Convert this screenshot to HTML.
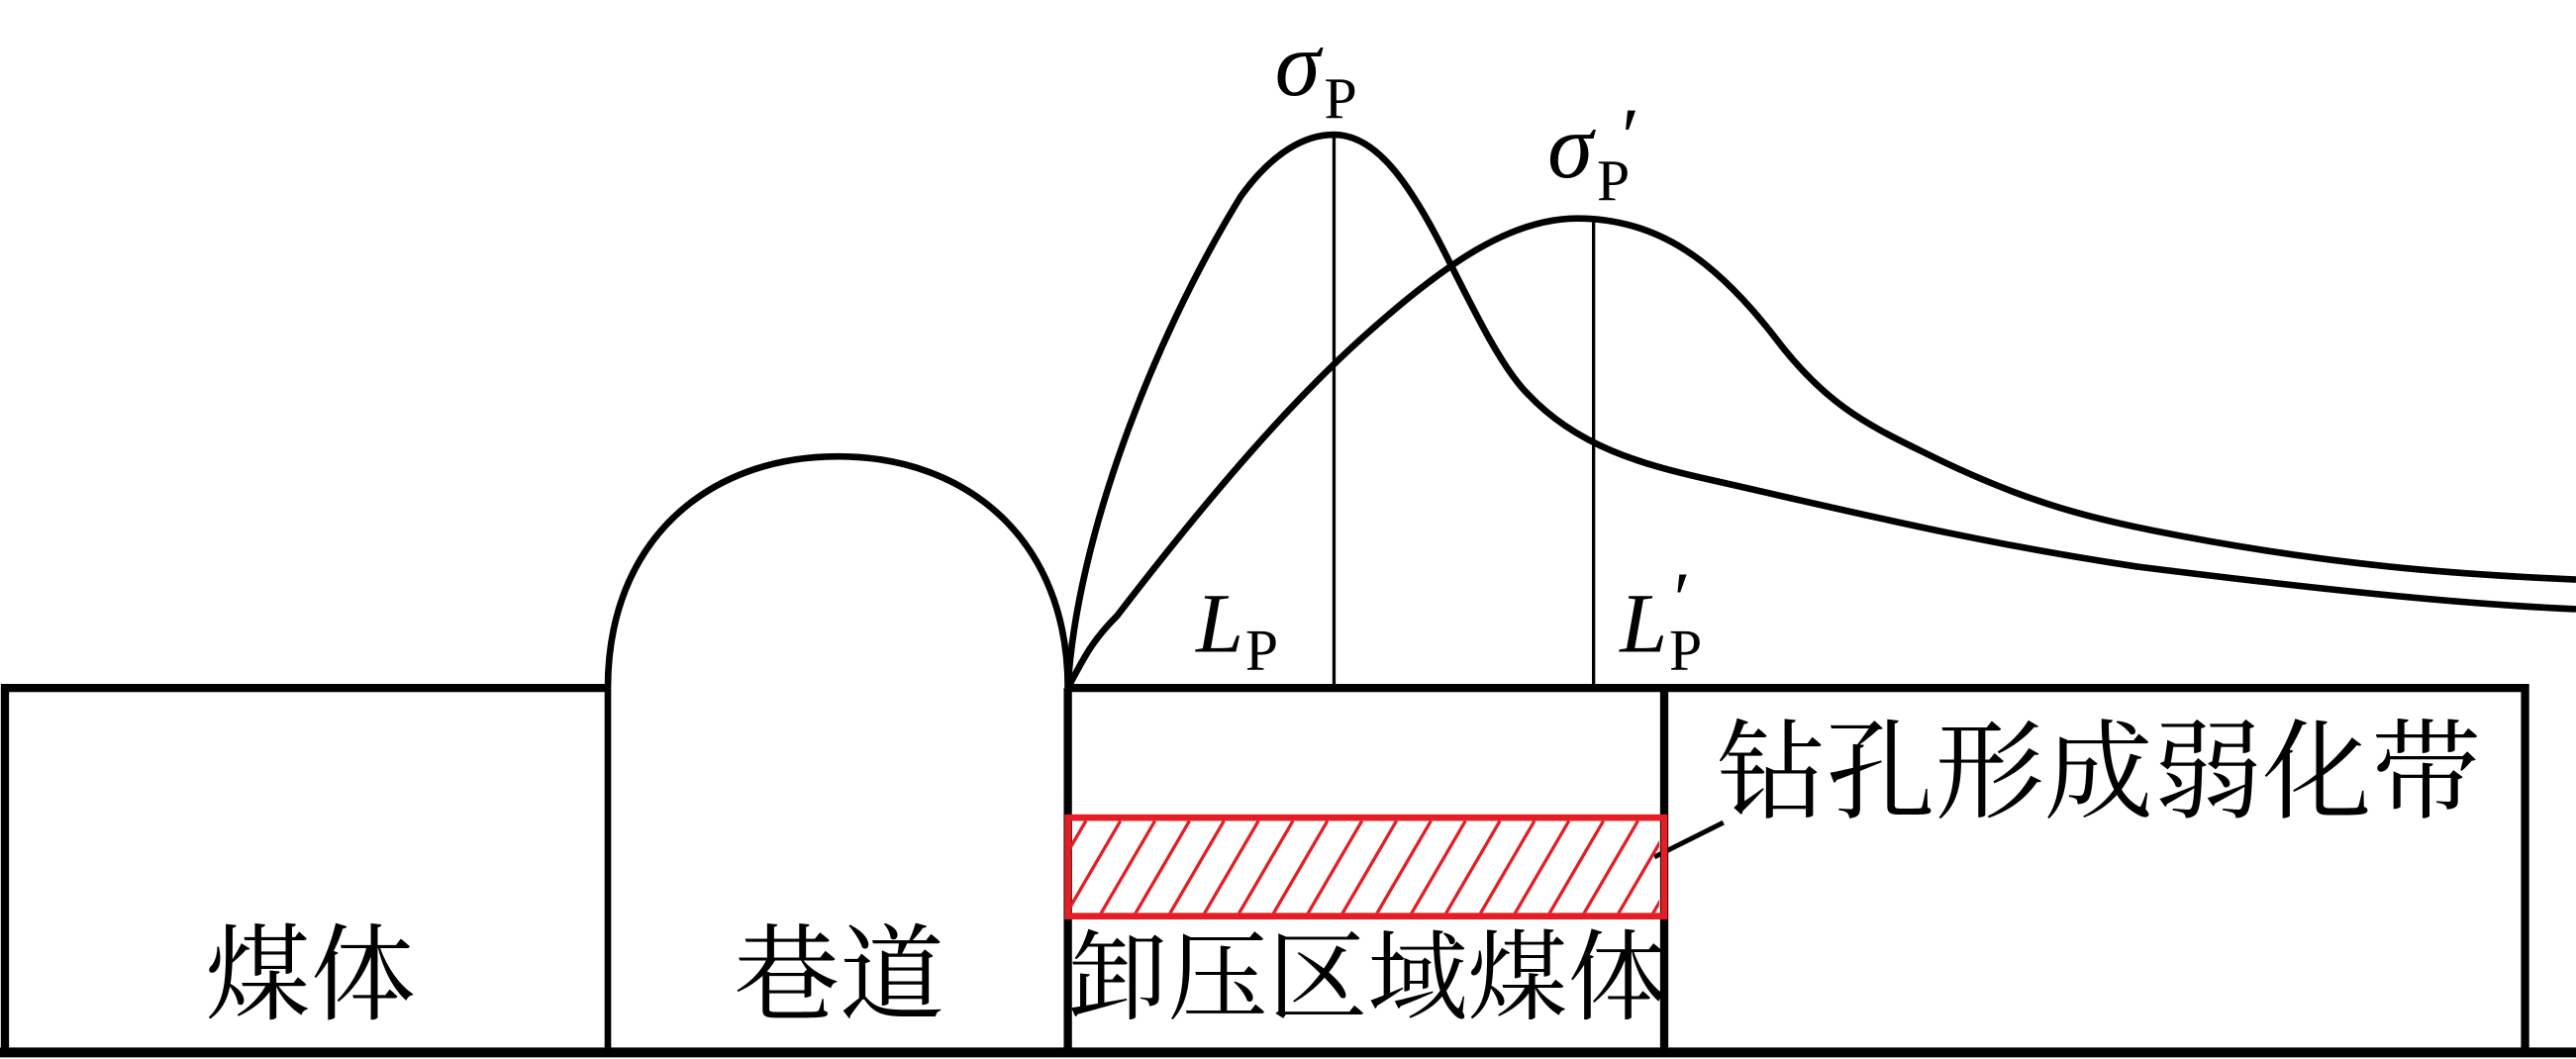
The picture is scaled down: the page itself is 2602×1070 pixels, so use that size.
<!DOCTYPE html>
<html><head><meta charset="utf-8"><style>
html,body{margin:0;padding:0;background:#fff;}
svg{display:block;}
</style></head><body>
<svg width="2602" height="1070" viewBox="0 0 1568 645" preserveAspectRatio="none" xmlns="http://www.w3.org/2000/svg">
<defs>
<clipPath id="hc"><rect x="652" y="500" width="358" height="56"/></clipPath>
</defs>
<g fill="none" stroke="#000" stroke-linecap="butt">
<path d="M3 641 V419 H370 M650 419 H1537 V641" stroke-width="5"/>
<line x1="0" y1="641" x2="1568" y2="641" stroke-width="6"/>
<line x1="370" y1="419" x2="370" y2="641" stroke-width="4"/>
<line x1="650" y1="419" x2="650" y2="641" stroke-width="5"/>
<line x1="1013" y1="419" x2="1013" y2="641" stroke-width="5"/>
<path d="M370 419 C370 330 430 278 510 278 C590 278 650 330 650 419" stroke-width="4"/>
<path d="M650 419 C655 330 700 210 755 120 C775 92 795 82 812 82 C835 82 855 105 880 155 C900 195 915 225 930 240 C960 272 1000 283 1040 292 C1120 310 1200 330 1300 345 C1420 360 1500 368 1568 371" stroke-width="4"/>
<path d="M650 419 C660 400 665 390 680 375 C730 310 780 250 830 205 C880 160 920 133 960 133 C1010 133 1045 160 1080 205 C1110 245 1135 258 1170 275 C1230 305 1270 315 1310 323 C1420 345 1500 350 1568 353" stroke-width="4"/>
<line x1="812" y1="82" x2="812" y2="419" stroke-width="2"/>
<line x1="970" y1="135" x2="970" y2="419" stroke-width="2"/>
<line x1="1007" y1="522" x2="1049" y2="501" stroke-width="3"/>
</g>
<g clip-path="url(#hc)" stroke="#e31e24" stroke-width="2">
<path d="M626 560 L661 500 M647 560 L682 500 M668 560 L703 500 M689 560 L724 500 M710 560 L745 500 M731 560 L766 500 M752 560 L787 500 M773 560 L808 500 M794 560 L829 500 M815 560 L850 500 M836 560 L871 500 M857 560 L892 500 M878 560 L913 500 M899 560 L934 500 M920 560 L955 500 M941 560 L976 500 M962 560 L997 500 M983 560 L1018 500 M1004 560 L1039 500"/>
</g>
<rect x="650" y="498" width="363" height="60" fill="none" stroke="#e31e24" stroke-width="4"/>
<g font-family="'Liberation Serif', serif" fill="#000">
<text x="776" y="58" font-size="56" font-style="italic">σ</text>
<text x="806" y="72" font-size="36">P</text>
<text x="942" y="108" font-size="56" font-style="italic">σ</text>
<text x="972" y="122" font-size="36">P</text>
<text x="984" y="100" font-size="50" font-style="italic">′</text>
<text x="728" y="397" font-size="52" font-style="italic">L</text>
<text x="758" y="408" font-size="36">P</text>
<text x="986" y="397" font-size="52" font-style="italic">L</text>
<text x="1016" y="408" font-size="36">P</text>
<text x="1016" y="380" font-size="46" font-style="italic">′</text>
</g>
<g font-family="'Liberation Serif','Noto Serif CJK SC',serif" fill="#000">
<text x="125" y="616" font-size="64">煤体</text>
<text x="447" y="616" font-size="64">巷道</text>
<text x="650" y="616" font-size="60" textLength="365" lengthAdjust="spacingAndGlyphs">卸压区域煤体</text>
<text x="1045" y="493" font-size="66" textLength="465" lengthAdjust="spacingAndGlyphs">钻孔形成弱化带</text>
</g>
</svg>
</body></html>
